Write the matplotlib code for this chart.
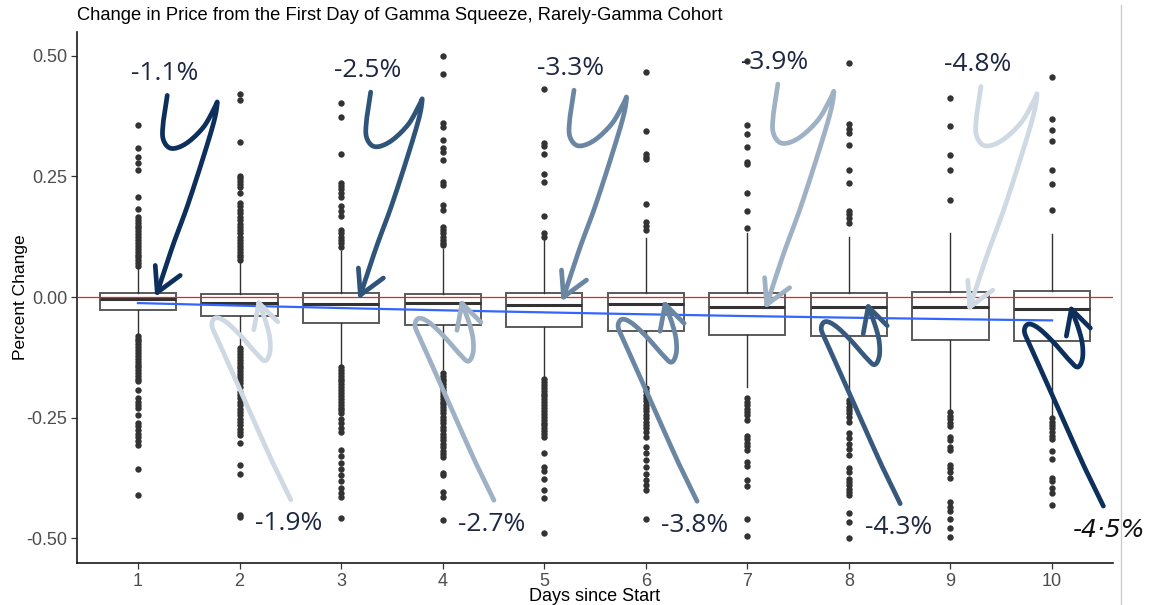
import numpy as np
import matplotlib
matplotlib.use("Agg")
import matplotlib.pyplot as plt
from matplotlib.lines import Line2D

# ---------------------------------------------------------------- data
days = [1, 2, 3, 4, 5, 6, 7, 8, 9, 10]

q1 = [-0.027, -0.039, -0.053, -0.058, -0.063, -0.070, -0.079, -0.081, -0.089, -0.092]
med = [-0.005, -0.012, -0.0145, -0.013, -0.0166, -0.015, -0.020, -0.020, -0.021, -0.025]
q3 = [0.009, 0.006, 0.008, 0.006, 0.009, 0.009, 0.008, 0.009, 0.011, 0.013]
whis_lo = [-0.075, -0.100, -0.140, -0.150, -0.165, -0.180, -0.187, -0.205, -0.232, -0.248]
whis_hi = [0.060, 0.072, 0.095, 0.100, 0.118, 0.122, 0.132, 0.124, 0.132, 0.130]

fliers_day1 = [0.356, 0.309, 0.290, 0.278, 0.264, 0.208, 0.182, 0.166, 0.160, 0.154, 0.148, 0.142,
               0.136, 0.130, 0.124, 0.118, 0.112, 0.106, 0.100, 0.094, 0.088, 0.082, 0.076, 0.070,
               0.064,
               -0.080, -0.086, -0.092, -0.098, -0.104, -0.110, -0.116, -0.122, -0.128, -0.134,
               -0.140, -0.146, -0.152, -0.158, -0.164, -0.170, -0.175, -0.193, -0.210, -0.217,
               -0.224, -0.230, -0.244, -0.261, -0.268, -0.275, -0.283, -0.290, -0.298, -0.306,
               -0.357, -0.411]
fliers_day2 = [0.420, 0.409, 0.322, 0.251, 0.246, 0.240, 0.234, 0.228, 0.215, 0.195, 0.188, 0.181,
               0.174, 0.166, 0.159, 0.152, 0.145, 0.139, 0.132, 0.124, 0.118, 0.112, 0.106, 0.100,
               0.094, 0.088, 0.082, 0.077,
               -0.106, -0.112, -0.118, -0.124, -0.130, -0.136, -0.142, -0.148, -0.154, -0.160,
               -0.166, -0.172, -0.179, -0.186, -0.196, -0.203, -0.210, -0.217, -0.224, -0.231,
               -0.238, -0.245, -0.252, -0.259, -0.266, -0.273, -0.280, -0.286, -0.302, -0.348,
               -0.366, -0.451, -0.456]
fliers_day3 = [0.401, 0.373, 0.297, 0.237, 0.230, 0.223, 0.216, 0.208, 0.188, 0.178, 0.168, 0.139,
               0.132, 0.125, 0.118, 0.111, 0.104,
               -0.145, -0.151, -0.157, -0.163, -0.169, -0.175, -0.181, -0.187, -0.193, -0.199,
               -0.205, -0.211, -0.217, -0.223, -0.229, -0.235, -0.240, -0.253, -0.262, -0.271,
               -0.280, -0.317, -0.330, -0.343, -0.356, -0.369, -0.382, -0.395, -0.405, -0.414,
               -0.457]
fliers_day4 = [0.499, 0.463, 0.360, 0.353, 0.325, 0.308, 0.300, 0.284, 0.239, 0.232, 0.190, 0.180,
               0.146, 0.139, 0.132, 0.125, 0.118, 0.111, 0.108,
               -0.157, -0.163, -0.169, -0.175, -0.181, -0.187, -0.193, -0.199, -0.205, -0.211,
               -0.217, -0.222, -0.227, -0.234, -0.241, -0.248, -0.255, -0.262, -0.269, -0.276,
               -0.283, -0.290, -0.297, -0.304, -0.311, -0.318, -0.325, -0.331, -0.364, -0.369,
               -0.403, -0.415, -0.462]
fliers_day5 = [0.430, 0.319, 0.313, 0.296, 0.255, 0.239, 0.168, 0.133, 0.124,
               -0.170, -0.176, -0.182, -0.188, -0.194, -0.200, -0.206, -0.212, -0.218, -0.224,
               -0.230, -0.236, -0.242, -0.248, -0.254, -0.260, -0.266, -0.272, -0.278, -0.284,
               -0.289, -0.324, -0.353, -0.360, -0.377, -0.400, -0.417, -0.488]
fliers_day6 = [0.466, 0.344, 0.296, 0.290, 0.285, 0.193, 0.156, 0.148, 0.139,
               -0.188, -0.195, -0.202, -0.209, -0.216, -0.223, -0.230, -0.237, -0.244, -0.251,
               -0.258, -0.265, -0.272, -0.279, -0.290, -0.310, -0.324, -0.338, -0.352, -0.366,
               -0.380, -0.390, -0.400, -0.460]
fliers_day7 = [0.489, 0.356, 0.337, 0.311, 0.280, 0.275, 0.216, 0.179, 0.142,
               -0.210, -0.217, -0.224, -0.231, -0.238, -0.245, -0.255, -0.288, -0.295, -0.302,
               -0.309, -0.317, -0.341, -0.351, -0.379, -0.391, -0.460, -0.495]
fliers_day8 = [0.484, 0.358, 0.349, 0.340, 0.315, 0.263, 0.237, 0.179, 0.171, 0.163, 0.154,
               -0.213, -0.220, -0.227, -0.234, -0.241, -0.248, -0.258, -0.282, -0.293, -0.304,
               -0.315, -0.327, -0.355, -0.362, -0.376, -0.383, -0.390, -0.397, -0.404, -0.410,
               -0.448, -0.467, -0.500]
fliers_day9 = [0.413, 0.355, 0.294, 0.263, 0.200,
               -0.239, -0.246, -0.253, -0.260, -0.268, -0.289, -0.296, -0.310, -0.317, -0.348,
               -0.355, -0.362, -0.375, -0.424, -0.434, -0.444, -0.460, -0.479, -0.498]
fliers_day10 = [0.456, 0.368, 0.346, 0.324, 0.263, 0.235, 0.180,
                -0.251, -0.258, -0.265, -0.272, -0.280, -0.288, -0.295, -0.320, -0.336, -0.375,
                -0.382, -0.396, -0.405, -0.430]
fliers = [fliers_day1, fliers_day2, fliers_day3, fliers_day4, fliers_day5,
          fliers_day6, fliers_day7, fliers_day8, fliers_day9, fliers_day10]

# smoothed trend of the daily change
trend = [-0.012, -0.0186, -0.0234, -0.027, -0.032, -0.035, -0.039, -0.044, -0.046, -0.048]

# average change per day (percent), written next to each box
mean_pct = [-1.1, -1.9, -2.5, -2.7, -3.3, -3.8, -3.9, -4.3, -4.8, -4.5]

y_ticks = [-0.50, -0.25, 0.00, 0.25, 0.50]
y_tick_labels = ["-0.50", "-0.25", "0.00", "0.25", "0.50"]

# ---------------------------------------------------------------- figure
W, H, DPI = 1161, 605, 100
fig = plt.figure(figsize=(W / DPI, H / DPI), dpi=DPI)
ax = fig.add_axes([77 / W, 42 / H, (1113 - 77) / W, (563 - 32) / H])

stats = []
for i in range(len(days)):
    stats.append(dict(med=med[i], q1=q1[i], q3=q3[i], whislo=whis_lo[i],
                      whishi=whis_hi[i], fliers=fliers[i]))

ax.bxp(stats, positions=days, widths=0.75, patch_artist=True, showcaps=False,
       boxprops=dict(facecolor="white", edgecolor="#5a5a5a", linewidth=1.4),
       medianprops=dict(color="#333333", linewidth=2.2),
       whiskerprops=dict(color="#333333", linewidth=1.0),
       flierprops=dict(marker="o", markerfacecolor="#333333", markeredgecolor="none",
                       markersize=4.6))

ax.set_xlim(0.4, 10.6)
ax.set_ylim(-0.551, 0.549)

# zero reference and trend
ax.axhline(0, color="#e8231f", lw=0.9, zorder=3)
coef = np.polyfit(days, trend, 2)
xs = np.linspace(days[0], days[-1], 200)
ax.plot(xs, np.polyval(coef, xs), color="#3366ff", lw=1.6, zorder=4)

# axes styling
for s in ("top", "right"):
    ax.spines[s].set_visible(False)
for s in ("left", "bottom"):
    ax.spines[s].set_linewidth(1.2)
    ax.spines[s].set_color("#1a1a1a")
ax.set_xticks(days)
ax.set_xticklabels([str(d) for d in days])
ax.set_yticks(y_ticks)
ax.set_yticklabels(y_tick_labels)
ax.tick_params(axis="both", length=4, width=0.9, color="#333333", labelcolor="#4d4d4d",
               labelsize=13, pad=3)
for lab in ax.get_xticklabels() + ax.get_yticklabels():
    lab.set_family("Liberation Sans")
ax.set_xlabel("Days since Start", fontsize=13, family="Liberation Sans", labelpad=-1)
ax.set_ylabel("Percent Change", fontsize=12.5, family="Liberation Sans", labelpad=-1)
fig.text(77 / W, 1 - 16 / H, "Change in Price from the First Day of Gamma Squeeze, Rarely-Gamma Cohort",
         fontsize=13.2, family="Liberation Sans", va="center", ha="left")

# thin frame line on the right edge
fig.add_artist(Line2D([1121 / W, 1121 / W], [0, 1 - 5 / H], color="#cccccc", lw=1.0))

# ---------------------------------------------------------------- hand-drawn arrows
def catmull_rom(pts, n=14):
    pts = np.asarray(pts, float)
    p = np.vstack([pts[0], pts, pts[-1]])
    out = []
    for i in range(1, len(p) - 2):
        p0, p1, p2, p3 = p[i - 1], p[i], p[i + 1], p[i + 2]
        t = np.linspace(0, 1, n, endpoint=False)[:, None]
        out.append(0.5 * ((2 * p1) + (-p0 + p2) * t + (2 * p0 - 5 * p1 + 4 * p2 - p3) * t ** 2
                          + (-p0 + 3 * p1 - 3 * p2 + p3) * t ** 3))
    out.append(pts[-1][None, :])
    return np.vstack(out)

# shapes in pixels relative to the arrow tip, y pointing down
hook_above = [(10, -197), (6, -170), (6, -153), (14, -144), (29, -149), (46, -165), (57, -184),
              (60, -190), (57, -172), (46, -135), (30, -86), (16, -48), (3, -9), (0, 0)]
wings_above = [(-2, -27), (23, -17)]
hook_below = [(32, 197), (14, 160), (-8, 111), (-28, 66), (-42, 35), (-47, 22), (-43, 15),
              (-33, 19), (-18, 33), (-3, 50), (6, 58), (11, 50), (11, 35), (7, 19), (0, 0)]
wings_below = [(-5, 27), (19, 19)]

arrow_colors = ["#0c2f5b", "#cfd9e3", "#2f5479", "#9fb2c5", "#6a86a3",
                "#6a86a3", "#9fb2c5", "#36597d", "#cfd9e3", "#0c2f5b"]
above_scale = {1: 1.0, 3: 1.03, 5: 1.05, 7: 1.12, 9: 1.12}
above_tip_dy = {1: -7, 3: -9, 5: -8, 7: -2, 9: 0}
label_color = "#1e2742"

fig.canvas.draw()
for i, d in enumerate(days):
    above = d % 2 == 1
    tip = ax.transData.transform((d + 0.19, med[i]))
    if above:
        sc = above_scale[d]
        tip = tip + np.array([0, -above_tip_dy[d]])
        shape = np.array(hook_above) * sc
        wings = np.array(wings_above)
    else:
        shape = np.array(hook_below)
        wings = np.array(wings_below)
    curve = catmull_rom(shape) * np.array([1, -1]) + tip
    col = arrow_colors[i]
    ax.add_line(Line2D(curve[:, 0], curve[:, 1], transform=None, color=col, lw=3.4,
                       solid_capstyle="round", solid_joinstyle="round", zorder=6, clip_on=False))
    for w in wings:
        wp = np.array(w) * np.array([1, -1]) + tip
        ax.add_line(Line2D([tip[0], wp[0]], [tip[1], wp[1]], transform=None, color=col, lw=3.4,
                           solid_capstyle="round", zorder=6, clip_on=False))
    start = shape[0] * np.array([1, -1]) + tip
    text = f"{mean_pct[i]:.1f}%"
    if above:
        lx, ly = start[0] - 3, start[1] + 22
        ax.text(lx, ly, text, transform=None, ha="center", va="center", fontsize=19,
                family="Open Sans", color=label_color, zorder=7)
    else:
        lx, ly = start[0] - 2, start[1] - 24
        if d == days[-1]:
            ax.text(lx + 8, ly, text.replace(".", "\u00b7"), transform=None, ha="center",
                    va="center", fontsize=18, family="DejaVu Sans", style="italic",
                    color="#111111", zorder=7)
        else:
            ax.text(lx, ly, text, transform=None, ha="center", va="center", fontsize=19,
                    family="Open Sans", color=label_color, zorder=7)

fig.savefig("out.png", dpi=DPI)
